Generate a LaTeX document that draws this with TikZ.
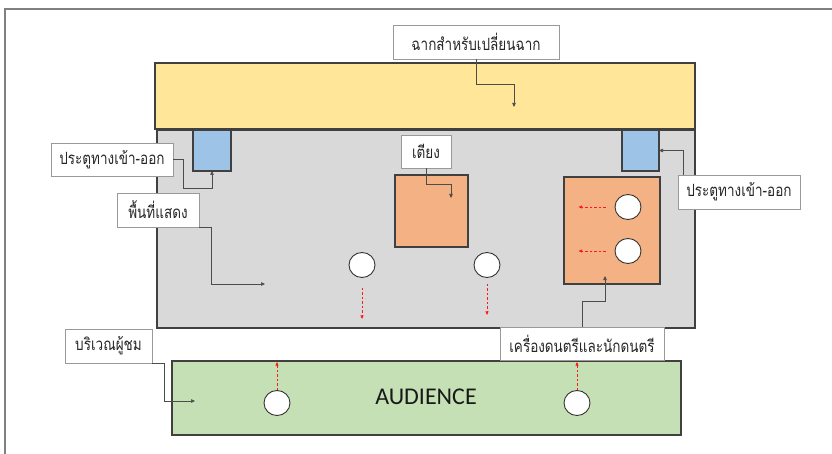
\documentclass[tikz,border=0pt]{standalone}
\usepackage{fontspec}
\usepackage{graphicx}
\setmainfont{Carlito}
\newfontfamily\thaifont[Script=Thai]{Loma}
\usetikzlibrary{arrows.meta,shapes.geometric}
\definecolor{scenecol}{HTML}{FFE699}
\definecolor{stagecol}{HTML}{D9D9D9}
\definecolor{doorcol}{HTML}{9DC3E6}
\definecolor{propcol}{HTML}{F4B183}
\definecolor{audcol}{HTML}{C5E0B4}
\newcommand{\thailab}[1]{\scalebox{1}[1.25]{#1}}
\begin{document}
\begin{tikzpicture}[x=1pt,y=-1pt,
  area/.style={draw=black!75, line width=1.1pt, inner sep=0pt, outer sep=0pt},
  lab/.style={draw=black!40, fill=white, line width=0.8pt, inner sep=0pt, outer sep=0pt,
    text=black!85, font=\thaifont\fontsize{13.5}{16}\selectfont},
  seat/.style={ellipse, draw=black!80, fill=white, line width=0.9pt, inner sep=0pt,
    minimum width=26, minimum height=25},
  conn/.style={draw=black!70, line width=0.6pt, -{Triangle[length=4pt,width=3.5pt]}},
  move/.style={draw=red!90, line width=0.6pt, dash pattern=on 2.5pt off 2pt,
    -{Triangle[length=3.5pt,width=3pt]}}
]
\useasboundingbox (0,0) rectangle (832,454);
\coordinate (ftl) at (5,9);
\draw[black!50, line width=1.2pt] (832,9) -- (ftl) -- (5,454);

% areas
\node[area, fill=scenecol, minimum width=540, minimum height=66] (scene) at (425,96) {};
\node[area, fill=stagecol, minimum width=538, minimum height=198] (stage) at (426,229) {};
\node[area, fill=doorcol, minimum width=38, minimum height=41] (door1) at (212,150.5) {};
\node[area, fill=doorcol, minimum width=37, minimum height=41] (door2) at (640.5,150.5) {};
\node[area, fill=propcol, minimum width=73, minimum height=72] (bed) at (431.5,211) {};
\node[area, fill=propcol, minimum width=96, minimum height=107] (music) at (612,230.5) {};
\node[area, fill=audcol, minimum width=509, minimum height=74] (aud) at (426.5,398) {};
\node[font=\fontsize{24}{28}\selectfont, text=black!90] (audtext) at (426,397) {AUDIENCE};

% seats / actors
\node[seat] (c1) at (362,265) {};
\node[seat] (c2) at (487,265) {};
\node[seat] (c3) at (628,207) {};
\node[seat] (c4) at (628,251) {};
\node[seat] (a1) at (277,403) {};
\node[seat] (a2) at (577,403) {};

% movement arrows
\draw[move] ([yshift=-10pt]c1.south) -- ++(0,31);
\draw[move] ([yshift=-6pt]c2.south) -- ++(0,31);
\draw[move] ([xshift=-9pt]c3.west) -- ++(-27,0);
\draw[move] ([xshift=-9pt]c4.west) -- ++(-27,0);
\draw[move] (a1.north) -- ++(0,-28);
\draw[move] (a2.north) -- ++(0,-28);

% labels
\node[lab, minimum width=166, minimum height=34] (lscene) at (476,42) {\thailab{ฉากสำหรับเปลี่ยนฉาก}};
\node[lab, minimum width=122, minimum height=33] (ldoor1) at (112,159.5) {\thailab{ประตูทางเข้า-ออก}};
\node[lab, minimum width=82, minimum height=34] (lstage) at (158,210) {\thailab{พื้นที่แสดง}};
\node[lab, minimum width=50, minimum height=33] (lbed) at (426,151.5) {\thailab{เตียง}};
\node[lab, minimum width=122, minimum height=34] (ldoor2) at (739,192) {\thailab{ประตูทางเข้า-ออก}};
\node[lab, minimum width=164, minimum height=33] (lmusic) at (582,343.5) {\thailab{เครื่องดนตรีและนักดนตรี}};
\node[lab, minimum width=87, minimum height=34] (laud) at (108.5,346) {\thailab{บริเวณผู้ชม}};

% connectors
\coordinate (tscene) at (514,107);
\coordinate (tstage) at (265,284);
\coordinate (tbed) at (451,198);
\coordinate (tmusic) at (605,276);
\coordinate (taud) at (195,401);
\draw[conn] (lscene.south) |- (514,84) -- (tscene);
\draw[conn] (ldoor1.east) -| (183,188) -| (door1.south);
\draw[conn] (lstage.south east) -| (211,284) -- (tstage);
\draw[conn] (lbed.south) |- (451,184) -- (tbed);
\draw[conn] ([xshift=5pt]ldoor2.north west) |- (door2.east);
\draw[conn] (lmusic.north) |- (605,301) -- (tmusic);
\draw[conn] (laud.south east) -| (164,401) -- (taud);
\end{tikzpicture}
\end{document}
